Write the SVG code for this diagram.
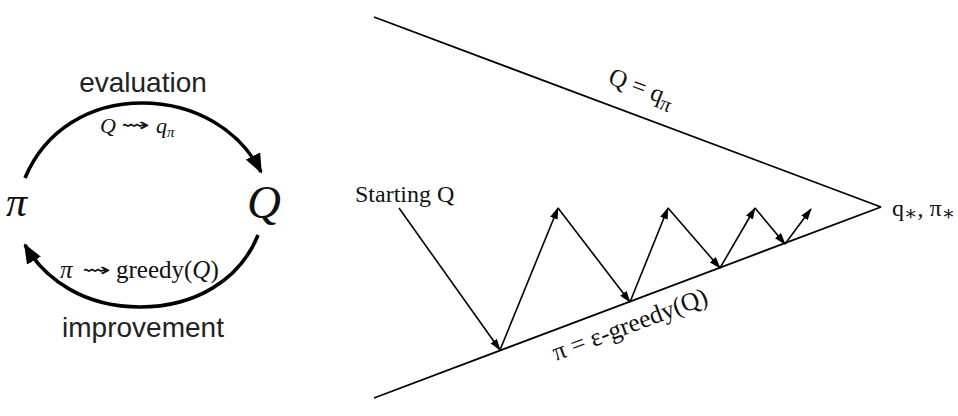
<svg xmlns="http://www.w3.org/2000/svg" width="958" height="416" viewBox="0 0 958 416">
<style>
.sans{font-family:"Liberation Sans",Arial,sans-serif;fill:#222;}
.serif{font-family:"Liberation Serif","Times New Roman","DejaVu Serif",serif;fill:#111;}
.sq{font-family:"DejaVu Sans",sans-serif;fill:#111;}
.it{font-style:italic;}
.arc{fill:none;stroke:#000;stroke-width:3.6;}
.ln{fill:none;stroke:#000;stroke-width:1.8;}
.ar{fill:none;stroke:#000;stroke-width:1.6;marker-end:url(#ah);}
</style>
<defs>
<marker id="ah" viewBox="0 0 12 8" refX="11" refY="4" markerWidth="12" markerHeight="8" markerUnits="userSpaceOnUse" orient="auto"><path d="M0,0 L12,4 L0,8 z" fill="#000"/></marker>
<marker id="big" viewBox="0 0 20 16" refX="18" refY="8" markerWidth="20" markerHeight="16" markerUnits="userSpaceOnUse" orient="auto"><path d="M0,0 L20,8 L0,16 z" fill="#000"/></marker>
</defs>

<g id="node-pi"><text class="serif it" x="6" y="216" font-size="42">π</text></g>
<g id="node-Q"><text class="serif it" x="247" y="218" font-size="47">Q</text></g>

<g id="connectors">
<path class="arc" d="M25,178 C45,130 90,103 142,103 C195,103 240,130 261,172" marker-end="url(#big)"/>
<path class="arc" d="M258,235 C240,280 195,307 140,307 C85,307 45,280 25,245" marker-end="url(#big)"/>
<line class="ln" x1="374" y1="17" x2="881" y2="207"/>
<line class="ln" x1="374" y1="398" x2="881" y2="207"/>
<line class="ar" x1="399" y1="208" x2="500" y2="350"/>
<line class="ar" x1="500" y1="350" x2="558" y2="208"/>
<line class="ar" x1="558" y1="208" x2="630" y2="302"/>
<line class="ar" x1="630" y1="302" x2="668" y2="208"/>
<line class="ar" x1="668" y1="208" x2="720" y2="268"/>
<line class="ar" x1="720" y1="268" x2="755" y2="208"/>
<line class="ar" x1="755" y1="208" x2="785" y2="244"/>
<line class="ar" x1="785" y1="244" x2="811" y2="209"/>
</g>

<g id="labels">
<text class="sans" x="143" y="92" font-size="28" text-anchor="middle">evaluation</text>
<text class="sans" x="143" y="337" font-size="28" text-anchor="middle">improvement</text>
<text class="serif it" x="100" y="133" font-size="22">Q</text>
<text class="sq" x="121" y="131" font-size="18" textLength="29" lengthAdjust="spacingAndGlyphs">⇝</text>
<text class="serif it" x="156" y="133" font-size="22">q<tspan font-size="15" dy="4">π</tspan></text>
<text class="serif it" x="60" y="278" font-size="25">π</text>
<text class="sq" x="82" y="276" font-size="18" textLength="29" lengthAdjust="spacingAndGlyphs">⇝</text>
<text class="serif" x="116" y="278" font-size="25">greedy(<tspan class="it">Q</tspan>)</text>
<text class="serif" x="355" y="202" font-size="24">Starting Q</text>
<text class="serif" font-size="25" transform="translate(607,83) rotate(20.5)">Q = q<tspan font-size="21" dy="6">π</tspan></text>
<text class="serif" font-size="25.5" transform="translate(556,361) rotate(-20.6)">π = ε-greedy(Q)</text>
<text class="serif" x="892" y="216" font-size="24">q<tspan font-size="20" dy="4">∗</tspan><tspan dy="-4">, π</tspan><tspan font-size="20" dy="4">∗</tspan></text>
</g>
</svg>
